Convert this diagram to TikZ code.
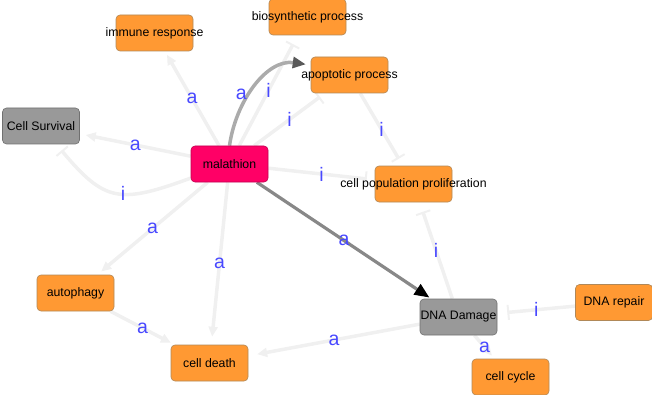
\documentclass[tikz,border=0pt]{standalone}
\usepackage{fontspec}
\setmainfont{Liberation Sans}
\usetikzlibrary{arrows.meta,backgrounds}
\definecolor{orangebox}{HTML}{FF9933}
\definecolor{orangeborder}{HTML}{B08858}
\definecolor{graybox}{HTML}{999999}
\definecolor{grayborder}{HTML}{707070}
\definecolor{pinkbox}{HTML}{FF0066}
\definecolor{pinkborder}{HTML}{C00050}
\definecolor{edgelight}{HTML}{F0F0F0}
\definecolor{edgemid}{HTML}{ABABAB}
\definecolor{edgedark}{HTML}{888888}
\definecolor{labblue}{HTML}{4848FF}
\newcommand\boxtxt[1]{\makebox[0pt]{#1}}
\begin{document}
\begin{tikzpicture}[x=1pt,y=1pt,
  box/.style={rectangle, rounded corners=4pt, minimum width=77pt, minimum height=36pt,
    inner sep=0pt, line width=0.6pt, font=\fontsize{12.3}{14}\selectfont, text=black},
  obox/.style={box, fill=orangebox, draw=orangeborder},
  gbox/.style={box, fill=graybox, draw=grayborder},
  pbox/.style={box, fill=pinkbox, draw=pinkborder},
  lab/.style={text=labblue, font=\fontsize{19.5}{19.5}\selectfont, inner sep=0pt},
  act/.style={draw=edgelight, line width=3.5pt, -{Triangle[length=10pt,width=9pt]}},
  inh/.style={draw=edgelight, line width=3.5pt, -{Bar[width=15pt,line width=2pt]}},
  actmid/.style={draw=edgemid, line width=3.5pt, -{Triangle[length=13pt,width=11pt,fill=black!65,color=black!65]}},
  actdark/.style={draw=edgedark, line width=3.2pt, -{Triangle[length=15pt,width=12pt,fill=black,color=black]}}
]
\useasboundingbox (0,0) rectangle (652,394);

\node[obox] (immune) at (154.5,361) {\boxtxt{immune response}};
\node[obox] (biosyn) at (307.5,377) {\boxtxt{biosynthetic process}};
\node[obox] (apopt) at (349.5,319) {\boxtxt{apoptotic process}};
\node[gbox] (survival) at (41,268) {\boxtxt{Cell Survival}};
\node[pbox] (mal) at (229.5,230) {\boxtxt{malathion}};
\node[obox] (cpp) at (413.5,210) {\boxtxt{cell population proliferation}};
\node[obox] (autophagy) at (75.5,101) {\boxtxt{autophagy}};
\node[obox] (death) at (209.5,31) {\boxtxt{cell death}};
\node[gbox] (dna) at (458.5,77) {\boxtxt{DNA Damage}};
\node[obox] (repair) at (614,91.5) {\boxtxt{DNA repair}};
\node[obox] (cycle) at (510.5,17) {\boxtxt{cell cycle}};

\begin{pgfonlayer}{background}
\draw[act, shorten >=4pt] (mal) -- node[lab, midway] {a} (immune);
\draw[act, shorten >=6pt] (mal) -- node[lab, midway] {a} (survival);
\draw[act, shorten >=5pt] (mal) -- node[lab, midway] {a} (autophagy);
\draw[act, shorten >=8pt] (mal) -- node[lab, midway] {a} (death);
\draw[inh, shorten >=10pt] (mal) -- node[lab, midway] {i} (biosyn);
\draw[inh, shorten >=6pt] (mal) -- node[lab, midway] {i} (apopt);
\draw[inh, shorten >=8pt] (mal) -- node[lab, midway] {i} (cpp);
\draw[inh, shorten >=8pt] (apopt) -- node[lab, midway] {i} (cpp);
\draw[inh, shorten >=10pt] (dna) -- node[lab, midway] {i} (cpp);
\draw[inh, shorten >=10pt] (repair) -- node[lab, midway] {i} (dna);
\draw[act, shorten >=4pt] (dna) -- node[lab, midway] {a} (cycle);
\draw[act, shorten >=9pt] (dna) -- node[lab, midway] {a} (death);
\draw[act, shorten >=4pt] (autophagy) -- node[lab, midway] {a} (death);
\draw[inh, shorten >=8pt] (mal) to[out=200,in=-50,looseness=1.4] node[lab, pos=0.43] {i} (survival);
\draw[actmid, shorten >=5pt] (mal.north) to[out=82,in=172] node[lab, pos=0.42, left=1pt] {a} ([yshift=10pt]apopt.west);
\draw[actdark, shorten >=2pt] (mal) -- node[lab, midway] {a} (dna);
\end{pgfonlayer}
\end{tikzpicture}
\end{document}
